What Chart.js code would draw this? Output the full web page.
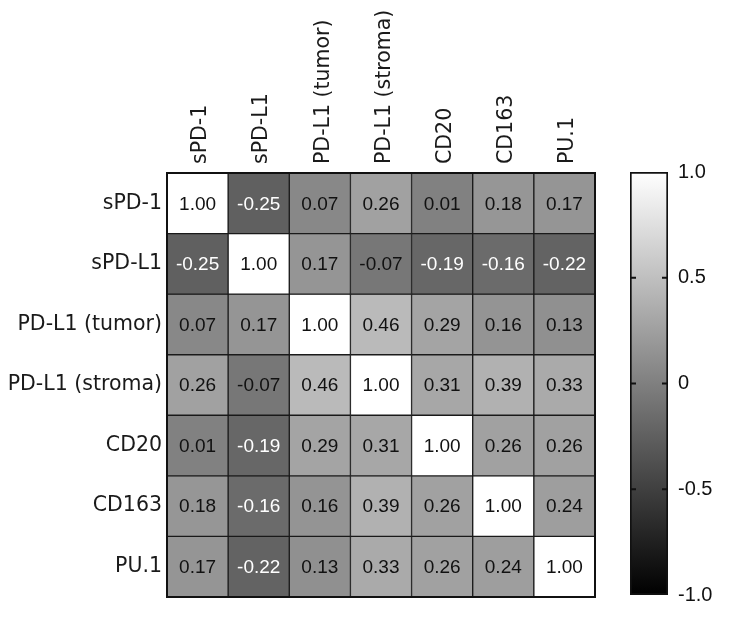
<!DOCTYPE html>
<html>
<head>
<meta charset="utf-8">
<script src="https://cdn.jsdelivr.net/npm/chart.js@4/dist/chart.umd.min.js"></script>
<style>
  html, body { margin: 0; padding: 0; background: #fff; }
  #wrap { position: relative; width: 734px; height: 617px; }
  #heatCanvas { position: absolute; left: 0; top: 0; }
  #barCanvas { position: absolute; left: 600px; top: 0; }
</style>
</head>
<body>
<div id="wrap">
  <canvas id="heatCanvas" width="734" height="617"></canvas>
  <canvas id="barCanvas" width="134" height="617"></canvas>
</div>
<script>
var colLabels = ['sPD-1', 'sPD-L1', 'PD-L1 (tumor)', 'PD-L1 (stroma)', 'CD20', 'CD163', 'PU.1'];
var rowLabels = ['sPD-1', 'sPD-L1', 'PD-L1 (tumor)', 'PD-L1 (stroma)', 'CD20', 'CD163', 'PU.1'];

var corrValues = [
    [1.00, -0.25, 0.07, 0.26, 0.01, 0.18, 0.17],
    [-0.25, 1.00, 0.17, -0.07, -0.19, -0.16, -0.22],
    [0.07, 0.17, 1.00, 0.46, 0.29, 0.16, 0.13],
    [0.26, -0.07, 0.46, 1.00, 0.31, 0.39, 0.33],
    [0.01, -0.19, 0.29, 0.31, 1.00, 0.26, 0.26],
    [0.18, -0.16, 0.16, 0.39, 0.26, 1.00, 0.24],
    [0.17, -0.22, 0.13, 0.33, 0.26, 0.24, 1.00]
];

var colorbarTicks = [-1, -0.5, 0, 0.5, 1];

var labelFont = 'DejaVu Sans';
var numFont = 'Liberation Sans';

function grayFor(v) {
    // -1 = black, 1 = white
    const g = Math.round((v + 1) / 2 * 255);
    return `rgb(${g}, ${g}, ${g})`;
}

// one dataset per row, floating bars spanning the row
const datasets = rowLabels.map((row, r) => ({
    label: row,
    data: corrValues[r].map(() => [r - 0.5, r + 0.5]),
    values: corrValues[r],
    backgroundColor: corrValues[r].map(v => grayFor(v)),
    borderColor: '#1a1a1a',
    borderWidth: 1,
    borderSkipped: false,
    barPercentage: 1,
    categoryPercentage: 1,
    grouped: false
}));

const cellText = {
    id: 'cellText',
    afterDatasetsDraw(chart) {
        const ctx = chart.ctx;
        ctx.save();
        ctx.font = `19px "${numFont}"`;
        ctx.textAlign = 'center';
        ctx.textBaseline = 'middle';
        chart.data.datasets.forEach((ds, i) => {
            const meta = chart.getDatasetMeta(i);
            meta.data.forEach((bar, j) => {
                const v = ds.values[j];
                ctx.fillStyle = v < -0.1 ? '#ffffff' : '#111111';
                const y = (bar.y + bar.base) / 2;
                ctx.fillText(v.toFixed(2), bar.x, y + 1);
            });
        });
        // outer frame
        const a = chart.chartArea;
        ctx.lineWidth = 2;
        ctx.strokeStyle = '#111';
        ctx.strokeRect(a.left, a.top, a.right - a.left, a.bottom - a.top);
        ctx.restore();
    }
};

new Chart(document.getElementById('heatCanvas').getContext('2d'), {
    type: 'bar',
    data: { labels: colLabels, datasets: datasets },
    options: {
        responsive: false,
        animation: false,
        layout: { padding: { left: 0, right: 139, top: 0, bottom: 20 } },
        plugins: { legend: { display: false }, tooltip: { enabled: false } },
        scales: {
            x: {
                position: 'top',
                grid: { display: false, drawTicks: false },
                border: { display: false },
                ticks: {
                    minRotation: 90,
                    maxRotation: 90,
                    padding: 9,
                    labelOffset: 28,
                    color: '#1a1a1a',
                    font: { family: labelFont, size: 20.5 }
                },
                afterFit(scale) { scale.height = 173; }
            },
            y: {
                type: 'linear',
                min: -0.5,
                max: 6.5,
                reverse: true,
                grid: { display: false, drawTicks: false },
                border: { display: false },
                afterBuildTicks(scale) {
                    scale.ticks = rowLabels.map((_, i) => ({ value: i }));
                },
                ticks: {
                    padding: 5,
                    color: '#1a1a1a',
                    font: { family: labelFont, size: 20.5 },
                    callback: v => rowLabels[v]
                },
                afterFit(scale) { scale.width = 167; }
            }
        }
    },
    plugins: [cellText]
});

// colour bar
const innerTicks = {
    id: 'innerTicks',
    afterDatasetsDraw(chart) {
        const ctx = chart.ctx;
        const a = chart.chartArea;
        const ys = chart.scales.y;
        ctx.save();
        ctx.strokeStyle = '#111';
        ctx.lineWidth = 2;
        colorbarTicks.filter(t => Math.abs(t) < 1).forEach(t => {
            const y = ys.getPixelForValue(t);
            ctx.beginPath();
            ctx.moveTo(a.left, y); ctx.lineTo(a.left + 6, y);
            ctx.moveTo(a.right - 6, y); ctx.lineTo(a.right, y);
            ctx.stroke();
        });
        ctx.restore();
    }
};

new Chart(document.getElementById('barCanvas').getContext('2d'), {
    type: 'bar',
    data: {
        labels: ['r'],
        datasets: [{
            data: [[-1, 1]],
            backgroundColor: function (context) {
                const chart = context.chart;
                if (!chart.chartArea) return '#888';
                const ys = chart.scales.y;
                const g = chart.ctx.createLinearGradient(0, ys.getPixelForValue(-1), 0, ys.getPixelForValue(1));
                g.addColorStop(0, '#000000');
                g.addColorStop(1, '#ffffff');
                return g;
            },
            borderColor: '#111',
            borderWidth: 2,
            borderSkipped: false,
            barPercentage: 1,
            categoryPercentage: 1
        }]
    },
    options: {
        responsive: false,
        animation: false,
        layout: { padding: { left: 30, right: 0, top: 172, bottom: 16 } },
        plugins: { legend: { display: false }, tooltip: { enabled: false } },
        scales: {
            x: { display: false },
            y: {
                position: 'right',
                min: -1,
                max: 1,
                grid: { display: false, drawTicks: false },
                border: { display: false },
                afterBuildTicks(scale) {
                    scale.ticks = colorbarTicks.map(v => ({ value: v }));
                },
                ticks: {
                    padding: 10,
                    color: '#111',
                    font: { family: numFont, size: 20 },
                    callback: v => v === 0 ? '0' : v.toFixed(1)
                },
                afterFit(scale) { scale.width = 66; }
            }
        }
    },
    plugins: [innerTicks]
});
</script>
</body>
</html>
